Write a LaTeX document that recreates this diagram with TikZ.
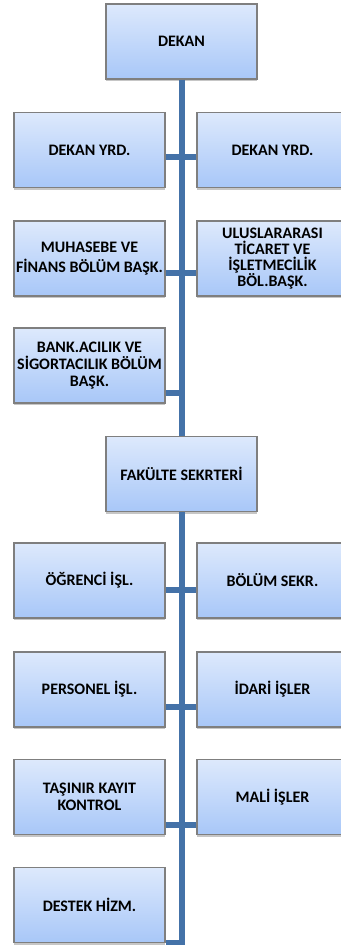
\documentclass[tikz,border=0pt]{standalone}
\usepackage{fontspec}
\setmainfont{Carlito}
\usetikzlibrary{shadows}
\definecolor{boxtop}{HTML}{DDE9FC}
\definecolor{boxbottom}{HTML}{A8C7F8}
\definecolor{boxline}{HTML}{7F7F7F}
\definecolor{trunk}{HTML}{4472A8}
\tikzset{
  unit/.style = {
    draw=boxline, line width=0.8pt,
    top color=boxtop, bottom color=boxbottom,
    minimum width=113.25pt, minimum height=56.25pt, inner sep=0pt,
    align=center, text=black, lines=15,
    drop shadow={opacity=0.45, shadow xshift=0pt, shadow yshift=-1.8pt}
  },
  lines/.style = {font=\bfseries\fontsize{12}{#1}\selectfont},
  link/.style = {draw=trunk, line width=4.5pt}
}

\begin{document}
\begin{tikzpicture}[x=0.75pt,y=-0.75pt]
  \useasboundingbox (0,0) rectangle (340,945);
  \node[unit] (dekan) at (181.5,41.5) {DEKAN};
  \node[unit] (yrdL) at (89.5,150) {DEKAN YRD.};
  \node[unit] (yrdR) at (272.5,150) {DEKAN YRD.};
  \node[unit] (muh) at (89.5,258.5) {MUHASEBE VE\\FİNANS BÖLÜM BAŞK.};
  \node[unit,lines=12.2] (ulus) at (272.5,258.5) {ULUSLARARASI\\TİCARET VE\\İŞLETMECİLİK\\BÖL.BAŞK.};
  \node[unit,lines=13] (bank) at (89.5,365.5) {BANK.ACILIK VE\\SİGORTACILIK BÖLÜM\\BAŞK.};
  \node[unit] (sekreter) at (181.5,474) {FAKÜLTE SEKRTERİ};
  \node[unit] (ogr) at (89.5,580.5) {ÖĞRENCİ İŞL.};
  \node[unit] (bolum) at (272.5,580.5) {BÖLÜM SEKR.};
  \node[unit] (personel) at (89.5,689.5) {PERSONEL İŞL.};
  \node[unit] (idari) at (272.5,689.5) {İDARİ İŞLER};
  \node[unit,lines=12.5] (tasinir) at (89.5,797) {TAŞINIR KAYIT\\KONTROL};
  \node[unit] (mali) at (272.5,797) {MALİ İŞLER};
  \node[unit] (destek) at (89.5,905) {DESTEK HİZM.};

  % trunk
  \draw[link] (dekan.south) -- (sekreter.north);
  \draw[link] (sekreter.south) -- (sekreter.south |- destek.south) -- (destek.south east);
  % branches
  \draw[link] (yrdL.east |- 0,157) -- (yrdR.west |- 0,157);
  \draw[link] (muh.east |- 0,273) -- (ulus.west |- 0,273);
  \draw[link] (bank.east |- 0,393) -- (dekan.south |- 0,393);
  \draw[link] (ogr.east |- 0,590) -- (bolum.west |- 0,590);
  \draw[link] (personel.east |- 0,707) -- (idari.west |- 0,707);
  \draw[link] (tasinir.east |- 0,825) -- (mali.west |- 0,825);
\end{tikzpicture}
\end{document}
